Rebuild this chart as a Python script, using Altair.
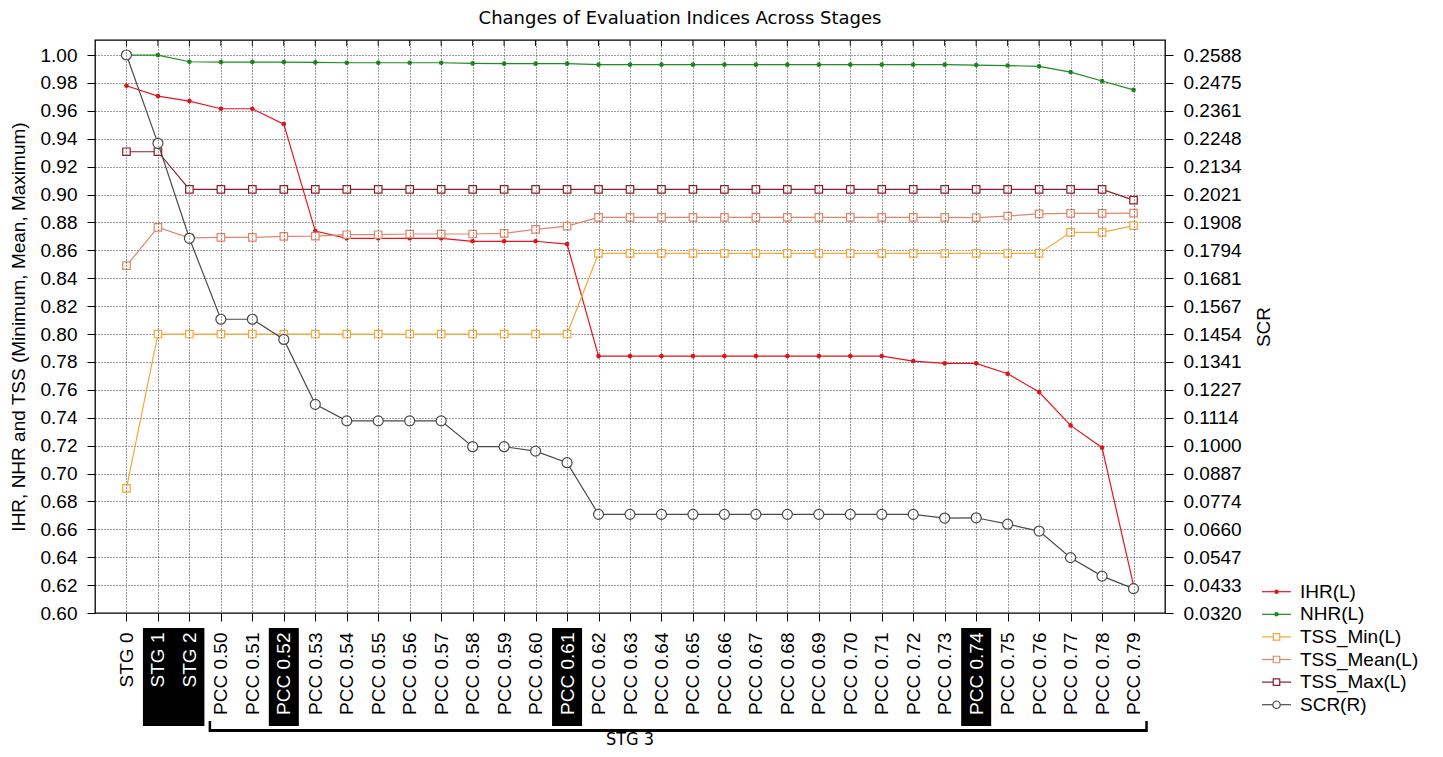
import altair as alt
import pandas as pd

categories = ["STG 0", "STG 1", "STG 2",
              "PCC 0.50", "PCC 0.51", "PCC 0.52", "PCC 0.53", "PCC 0.54", "PCC 0.55",
              "PCC 0.56", "PCC 0.57", "PCC 0.58", "PCC 0.59", "PCC 0.60", "PCC 0.61",
              "PCC 0.62", "PCC 0.63", "PCC 0.64", "PCC 0.65", "PCC 0.66", "PCC 0.67",
              "PCC 0.68", "PCC 0.69", "PCC 0.70", "PCC 0.71", "PCC 0.72", "PCC 0.73",
              "PCC 0.74", "PCC 0.75", "PCC 0.76", "PCC 0.77", "PCC 0.78", "PCC 0.79"]

ihr = [0.978, 0.9706, 0.967, 0.9615, 0.9615, 0.9505, 0.8738, 0.8686, 0.8686, 0.8686,
       0.8686, 0.8665, 0.8665, 0.8665, 0.8645,
       0.7842, 0.7842, 0.7842, 0.7842, 0.7842, 0.7842, 0.7842, 0.7842, 0.7842, 0.7842,
       0.7806, 0.779, 0.779, 0.7715, 0.7584, 0.7345, 0.7185, 0.620]
nhr = [1.000, 1.000, 0.9952, 0.995, 0.995, 0.995, 0.9947, 0.9945, 0.9945, 0.9945,
       0.9945, 0.994, 0.9938, 0.9938, 0.9938,
       0.9931, 0.9931, 0.9931, 0.9931, 0.9931, 0.9931, 0.9931, 0.9931, 0.9931, 0.9931,
       0.9931, 0.9931, 0.9928, 0.9925, 0.9919, 0.9878, 0.9814, 0.975]
tss_min = [0.6894, 0.80, 0.80, 0.80, 0.80, 0.80, 0.80, 0.80, 0.80, 0.80,
           0.80, 0.80, 0.80, 0.80, 0.80,
           0.8578, 0.8578, 0.8578, 0.8578, 0.8578, 0.8578, 0.8578, 0.8578, 0.8578, 0.8578,
           0.8578, 0.8578, 0.8578, 0.8578, 0.8578, 0.8729, 0.8729, 0.8777]
tss_mean = [0.849, 0.8765, 0.869, 0.8693, 0.8693, 0.870, 0.8702, 0.8712, 0.8712, 0.8717,
            0.8717, 0.8717, 0.8722, 0.875, 0.8774,
            0.8836, 0.8836, 0.8836, 0.8836, 0.8836, 0.8836, 0.8836, 0.8836, 0.8836, 0.8836,
            0.8836, 0.8836, 0.8834, 0.8846, 0.8862, 0.8865, 0.8865, 0.8867]
tss_max = [0.9307, 0.9307, 0.9037, 0.9037, 0.9037, 0.9037, 0.9037, 0.9037, 0.9037, 0.9037,
           0.9037, 0.9037, 0.9037, 0.9037, 0.9037,
           0.9037, 0.9037, 0.9037, 0.9037, 0.9037, 0.9037, 0.9037, 0.9037, 0.9037, 0.9037,
           0.9037, 0.9037, 0.9037, 0.9037, 0.9037, 0.9037, 0.9037, 0.896]
scr = [0.2588, 0.2229, 0.1843, 0.1514, 0.1514, 0.1432, 0.1168, 0.1101, 0.1101, 0.1101,
       0.1101, 0.0996, 0.0996, 0.0978, 0.0931,
       0.0721, 0.0721, 0.0721, 0.0721, 0.0721, 0.0721, 0.0721, 0.0721, 0.0721, 0.0721,
       0.0721, 0.0706, 0.0707, 0.0681, 0.0653, 0.0545, 0.0470, 0.0419]

series_names = ["IHR(L)", "NHR(L)", "TSS_Min(L)", "TSS_Mean(L)", "TSS_Max(L)", "SCR(R)"]
series_colors = ["#e8141c", "#1f8a1f", "#f2a83a", "#e0866a", "#8a1e2c", "#4a4a4a"]

left_ticks = [0.60, 0.62, 0.64, 0.66, 0.68, 0.70, 0.72, 0.74, 0.76, 0.78, 0.80,
              0.82, 0.84, 0.86, 0.88, 0.90, 0.92, 0.94, 0.96, 0.98, 1.00]
right_ticks = [0.0320, 0.0433, 0.0547, 0.0660, 0.0774, 0.0887, 0.1000, 0.1114, 0.1227,
               0.1341, 0.1454, 0.1567, 0.1681, 0.1794, 0.1908, 0.2021, 0.2134, 0.2248,
               0.2361, 0.2475, 0.2588]
left_domain = [0.60, 1.0108]
right_domain = [0.0320, 0.2649]

highlight_start = ["STG 1", "PCC 0.52", "PCC 0.61", "PCC 0.74"]
highlight_end = ["STG 2", "PCC 0.52", "PCC 0.61", "PCC 0.74"]
highlighted = ["STG 1", "STG 2", "PCC 0.52", "PCC 0.61", "PCC 0.74"]
group_label = ["STG 3"]
group_start = ["PCC 0.50"]
group_end = ["PCC 0.79"]
group_label_at = ["PCC 0.63"]

rows = []
for name, vals in zip(series_names, [ihr, nhr, tss_min, tss_mean, tss_max, scr]):
    for c, v in zip(categories, vals):
        rows.append({"cat": c, "series": name, "value": v})
df = pd.DataFrame(rows)
df_left = df[df.series != "SCR(R)"]
df_dots = df[df.series.isin(["IHR(L)", "NHR(L)"])]
df_sq = df[df.series.isin(["TSS_Min(L)", "TSS_Mean(L)", "TSS_Max(L)"])]
df_scr = df[df.series == "SCR(R)"]
df_cats = pd.DataFrame({"cat": categories})
df_hl = pd.DataFrame({"start": highlight_start, "end": highlight_end})
df_grp = pd.DataFrame({"start": group_start, "end": group_end, "label": group_label,
                       "at": group_label_at})
df_leg = pd.DataFrame({"series": series_names, "row": list(range(len(series_names)))})

FONT = "Liberation Sans"
FS = 19

xscale = alt.Scale(type="point", padding=1, domain=categories)
color_scale = alt.Scale(domain=series_names, range=series_colors)

GRID_DASH = [1, 2]
GRID_COLOR = "#3a3a3a"

x_axis = alt.Axis(
    title=None, labelAngle=270, labelFont=FONT, labelFontSize=FS, labelPadding=11,
    tickSize=8, tickColor="black", domain=False, grid=True, zindex=1,
    gridColor=GRID_COLOR, gridDash=GRID_DASH, gridWidth=1, labelOverlap=False,
    labelColor={"condition": {"test": "indexof(" + str(highlighted) + ", datum.value) >= 0",
                              "value": "white"}, "value": "black"},
)
y_left_axis = alt.Axis(
    values=left_ticks, format=".2f", title="IHR, NHR and TSS (Minimum, Mean, Maximum)",
    labelFont=FONT, labelFontSize=FS, labelPadding=10, tickSize=8, tickColor="black",
    titleFont=FONT, titleFontSize=FS, titleFontWeight="normal", titlePadding=12,
    domain=False, grid=True, gridColor=GRID_COLOR, gridDash=GRID_DASH, gridWidth=1,
)
y_right_axis = alt.Axis(
    orient="right", values=right_ticks, format=".4f", title="SCR",
    labelFont=FONT, labelFontSize=FS, labelPadding=10, tickSize=8, tickColor="black",
    titleFont=FONT, titleFontSize=FS, titleFontWeight="normal", titlePadding=13,
    titleAngle=270, titleBaseline="top", domain=False, grid=False,
)

X = alt.X("cat:O", scale=xscale, axis=x_axis, sort=categories)
YL = alt.Y("value:Q", scale=alt.Scale(domain=left_domain, nice=False, zero=False),
           axis=y_left_axis)
COLOR = alt.Color("series:N", scale=color_scale, legend=None)

hl_rects = alt.Chart(df_hl).mark_rect(color="black", xOffset=-15, x2Offset=15).encode(
    x=alt.X("start:O", scale=xscale, axis=x_axis), x2="end:O",
    y=alt.value(588), y2=alt.value(686))

br_h = alt.Chart(df_grp).mark_rule(color="black", strokeWidth=3, xOffset=-11, x2Offset=13).encode(
    x=alt.X("start:O", scale=xscale, axis=x_axis), x2="end:O", y=alt.value(690.5))
br_l = alt.Chart(df_grp).mark_rule(color="black", strokeWidth=2.5, xOffset=-11).encode(
    x=alt.X("start:O", scale=xscale, axis=x_axis), y=alt.value(681), y2=alt.value(692))
br_r = alt.Chart(df_grp).mark_rule(color="black", strokeWidth=2.5, xOffset=13).encode(
    x=alt.X("end:O", scale=xscale, axis=x_axis), y=alt.value(681), y2=alt.value(692))
br_txt = alt.Chart(df_grp).mark_text(font="DejaVu Sans Condensed, DejaVu Sans", fontSize=18,
                                     baseline="alphabetic", color="black").encode(
    x=alt.X("at:O", scale=xscale, axis=x_axis), y=alt.value(705), text="label:N")

top_ticks = alt.Chart(df_cats).mark_rule(color="black", strokeWidth=1).encode(
    x=X, y=alt.value(0), y2=alt.value(6))

lines_left = alt.Chart(df_left).mark_line(strokeWidth=1.2).encode(
    x=X, y=YL, color=COLOR, detail="series:N")
dots = alt.Chart(df_dots).mark_point(shape="circle", filled=True, size=22, opacity=1).encode(
    x=X, y=YL, color=COLOR)
squares = alt.Chart(df_sq).mark_point(shape="square", filled=False, fill="#fffaf6", size=56,
                                      strokeWidth=1.2, opacity=1).encode(
    x=X, y=YL, color=COLOR)

left = alt.layer(hl_rects, br_h, br_l, br_r, br_txt, top_ticks, lines_left, dots, squares)

YR = alt.Y("value:Q", scale=alt.Scale(domain=right_domain, nice=False, zero=False),
           axis=y_right_axis)
scr_line = alt.Chart(df_scr).mark_line(strokeWidth=1.2).encode(
    x=X, y=YR, color=COLOR)
scr_pts = alt.Chart(df_scr).mark_point(shape="circle", filled=False, fill="#ffffff", size=100,
                                       strokeWidth=1.2, opacity=1).encode(
    x=X, y=YR, color=COLOR)
right = alt.layer(scr_line, scr_pts)

# legend block (line + marker + label per series), laid out in pixel space
leg_base = alt.Chart(df_leg).transform_calculate(py="551.7 + 22.6 * datum.row")
LY = alt.Y("py:Q", scale=None)
lg_line = leg_base.mark_rule(strokeWidth=1.2).encode(
    x=alt.value(1167), x2=alt.value(1196), y=LY, color=COLOR)
lg_dot = leg_base.transform_filter(
    "datum.series == 'IHR(L)' || datum.series == 'NHR(L)'").mark_point(
    shape="circle", filled=True, size=20, opacity=1).encode(
    x=alt.value(1181.5), y=LY, color=COLOR)
lg_sq = leg_base.transform_filter("indexof(datum.series, 'TSS') == 0").mark_point(
    shape="square", filled=False, fill="#ffffff", size=42, strokeWidth=1.2, opacity=1).encode(
    x=alt.value(1181.5), y=LY, color=COLOR)
lg_circ = leg_base.transform_filter("datum.series == 'SCR(R)'").mark_point(
    shape="circle", filled=False, fill="#ffffff", size=55, strokeWidth=1.2, opacity=1).encode(
    x=alt.value(1181.5), y=LY, color=COLOR)
lg_text = leg_base.mark_text(align="left", baseline="middle", font=FONT, fontSize=FS,
                             color="black").encode(
    x=alt.value(1205), y=LY, text="series:N")
legend_block = alt.layer(lg_line, lg_dot, lg_sq, lg_circ, lg_text)

chart = alt.layer(left, right, legend_block).resolve_scale(y="independent").properties(
    width=1070, height=573,
    background="white",
    autosize=alt.AutoSizeParams(type="none"),
    padding={"left": 87, "top": 32, "right": 270, "bottom": 136},
    title=alt.TitleParams("Changes of Evaluation Indices Across Stages", font="DejaVu Sans",
                          fontSize=18, fontWeight="normal", color="black", dx=50, offset=12),
).configure_view(stroke="black", strokeWidth=1.3)

chart.save("out.html", embed_options={"renderer": "svg", "actions": False})
